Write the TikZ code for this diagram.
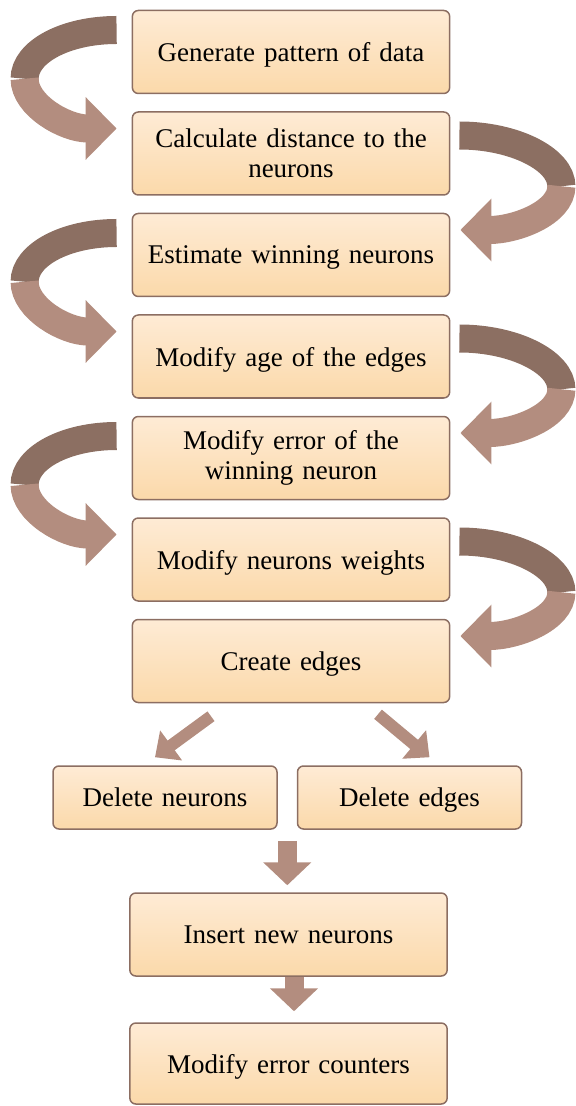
\documentclass[tikz,border=0pt]{standalone}
\usepackage{fontspec}
\setmainfont{Liberation Serif}
\usetikzlibrary{arrows.meta,calc}
\definecolor{boxtop}{HTML}{FEEBD5}
\definecolor{boxbot}{HTML}{FBD9AA}
\definecolor{boxline}{HTML}{8C6E62}
\definecolor{arrdark}{HTML}{8C6F62}
\definecolor{arrlight}{HTML}{B38D7F}

\begin{document}
\begin{tikzpicture}[x=0.5pt, y=-0.5pt, node distance=50.75pt,
  stepbox/.style={draw=boxline, line width=0.75pt, rounded corners=3pt,
    top color=boxtop, bottom color=boxbot, minimum width=158pt,
    minimum height=41.5pt, text width=152pt, align=center,
    font=\fontsize{13.5}{15}\selectfont},
  oneline/.style={stepbox, text depth=0pt},
  smallbox/.style={oneline, minimum width=112pt, minimum height=31.5pt, text width=104pt},
  curvdark/.style={draw=arrdark, line width=14pt},
  curvlight/.style={draw=arrlight, line width=14pt, -{Triangle[length=15.5pt,width=30.5pt]}},
  diag/.style={draw=arrlight, line width=6pt, -{Triangle[length=10pt,width=18pt]}},
  down/.style={draw=arrlight, line width=9.5pt, -{Triangle[length=11.5pt,width=23.5pt]}}]
\useasboundingbox (0,0) rectangle (576,1106);

\node[oneline] (gen) at (291,52) {Generate pattern of data};
  \node[stepbox, below of = gen] (dist) {Calculate distance to the\\neurons};
  \node[oneline, below of = dist] (est) {Estimate winning neurons};
  \node[oneline, below of = est] (age) {Modify age of the edges};
  \node[stepbox, below of = age] (err) {Modify error of the\\winning neuron};
  \node[oneline, below of = err] (modw) {Modify neurons weights};
  \node[oneline, below of = modw] (create) {Create edges};
\node[smallbox] (delneu) at (165,797.5) {Delete neurons};
\node[smallbox] (deledg) at (409.5,797.5) {Delete edges};
\node[oneline] (insert) at (288.5,934.5) {Insert new neurons};
\node[oneline, minimum height=40.5pt] (counters) at (288.5,1063.5) {Modify error counters};

% turning arrows on the left
\coordinate (t1) at ($(gen.west)+(-15,-22)$);
\coordinate (m1) at ($(gen.west)!0.5!(dist.west)+(-107,-24)$);
\coordinate (h1) at ($(dist.west)+(-15,-25)$);
\draw[curvdark] (t1) .. controls +(-51,0) and +(0,-27) .. (m1);
\draw[curvlight] (m1) .. controls +(0,27) and +(-51,0) .. (h1);

\coordinate (t3) at ($(est.west)+(-15,-22)$);
\coordinate (m3) at ($(est.west)!0.5!(age.west)+(-107,-24)$);
\coordinate (h3) at ($(age.west)+(-15,-25)$);
\draw[curvdark] (t3) .. controls +(-51,0) and +(0,-27) .. (m3);
\draw[curvlight] (m3) .. controls +(0,27) and +(-51,0) .. (h3);

\coordinate (t5) at ($(err.west)+(-15,-22)$);
\coordinate (m5) at ($(err.west)!0.5!(modw.west)+(-107,-24)$);
\coordinate (h5) at ($(modw.west)+(-15,-25)$);
\draw[curvdark] (t5) .. controls +(-51,0) and +(0,-27) .. (m5);
\draw[curvlight] (m5) .. controls +(0,27) and +(-51,0) .. (h5);

% turning arrows on the right
\coordinate (t2) at ($(dist.east)+(9,-18)$);
\coordinate (m2) at ($(dist.east)!0.5!(est.east)+(111,-18)$);
\coordinate (h2) at ($(est.east)+(10,-25)$);
\draw[curvdark] (t2) .. controls +(55,0) and +(0,-27) .. (m2);
\draw[curvlight] (m2) .. controls +(0,27) and +(55,0) .. (h2);

\coordinate (t4) at ($(age.east)+(9,-18)$);
\coordinate (m4) at ($(age.east)!0.5!(err.east)+(111,-18)$);
\coordinate (h4) at ($(err.east)+(10,-25)$);
\draw[curvdark] (t4) .. controls +(55,0) and +(0,-27) .. (m4);
\draw[curvlight] (m4) .. controls +(0,27) and +(55,0) .. (h4);

\coordinate (t6) at ($(modw.east)+(9,-18)$);
\coordinate (m6) at ($(modw.east)!0.5!(create.east)+(111,-18)$);
\coordinate (h6) at ($(create.east)+(10,-25)$);
\draw[curvdark] (t6) .. controls +(55,0) and +(0,-27) .. (m6);
\draw[curvlight] (m6) .. controls +(0,27) and +(55,0) .. (h6);

% split and merge
\draw[diag] ($(create.south)+(-80,13)$) -- ($(delneu.north)+(-10,-8)$);
\draw[diag] ($(create.south)+(87,11)$) -- ($(deledg.north)+(20,-8)$);
\coordinate (mrg) at ($(delneu.south)!0.5!(deledg.south)$);
\draw[down] ($(mrg)+(0,11)$) -- ($(insert.north -| mrg)+(0,-7)$);
\draw[down] ($(insert.south)+(5.5,0)$) -- ($(counters.north)+(5.5,-11)$);
\end{tikzpicture}
\end{document}
